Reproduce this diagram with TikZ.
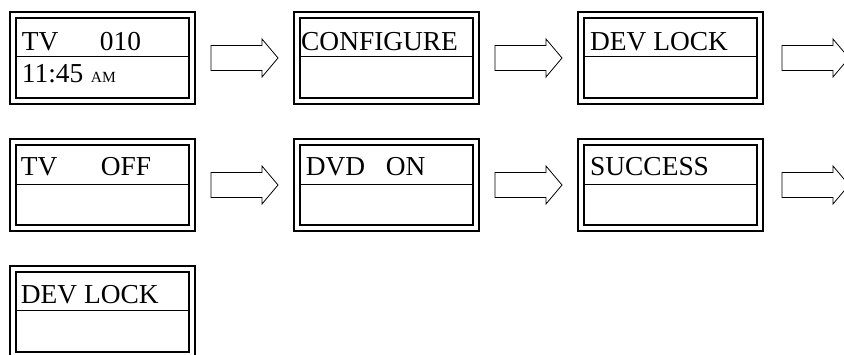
\documentclass[tikz,border=0pt]{standalone}
\usepackage{fontspec}
\setmainfont{Liberation Serif}
\usetikzlibrary{calc}
\begin{document}
\begin{tikzpicture}[x=1pt,y=-1pt,
  screen/.style={draw, line width=2pt, double, double distance=4pt,
    minimum width=179pt, minimum height=86pt, inner sep=0pt},
  lbl/.style={anchor=base west, inner sep=0pt, font=\fontsize{27.4}{30}\selectfont},
  smalllbl/.style={anchor=base west, inner sep=0pt, font=\fontsize{15.5}{18}\selectfont},
  divider/.style={line width=1pt},
  blockarrow/.pic={\draw[line width=0.8pt] (-33.5,-12.5) -- (17.5,-12.5) -- (17.5,-19)
     -- (33.5,0) -- (17.5,19) -- (17.5,12.5) -- (-33.5,12.5) -- cycle;}
]
\useasboundingbox (0,0) rectangle (844,354);
% screens
\node[screen] (s1) at (102.5,58) {};
\node[screen] (s2) at (386.5,58) {};
\node[screen] (s3) at (670.5,58) {};
\node[screen] (s4) at (102.5,185) {};
\node[screen] (s5) at (386.5,185) {};
\node[screen] (s6) at (670.5,185) {};
\node[screen] (s7) at (102.5,312) {};
% dividers
\foreach \s/\d in {s1/42,s2/42,s3/42,s4/43,s5/43,s6/43,s7/42}
  \draw[divider] ($(\s.north west)+(4,\d)$) -- ($(\s.north east)+(-4,\d)$);
% arrows
\coordinate (a1) at ($(s1.east)!0.5!(s2.west)$);
\coordinate (a2) at ($(s2.east)!0.5!(s3.west)$);
\coordinate (a3) at ($(s3.east)+(54.5,0)$);
\coordinate (a4) at ($(s4.east)!0.5!(s5.west)$);
\coordinate (a5) at ($(s5.east)!0.5!(s6.west)$);
\coordinate (a6) at ($(s6.east)+(54.5,0)$);
\foreach \a in {a1,a2,a3,a4,a5,a6}
  \pic at (\a) {blockarrow};
% texts
\node[lbl] (t1a) at ($(s1.north west)+(9.7,36)$) {TV};
\node[lbl] (t1b) at ($(s1.north west)+(87.7,36)$) {010};
\node[lbl] (t1c) at ($(s1.north west)+(9.7,68)$) {11:45};
\node[smalllbl] (t1d) at ($(s1.north west)+(78.7,68)$) {AM};
\node[lbl] (t2) at ($(s2.north west)+(5,36)$) {CONFIGURE};
\node[lbl] (t3) at ($(s3.north west)+(10,36)$) {DEV LOCK};
\node[lbl] (t4a) at ($(s4.north west)+(8.7,34)$) {TV};
\node[lbl] (t4b) at ($(s4.north west)+(88.7,34)$) {OFF};
\node[lbl] (t5a) at ($(s5.north west)+(9.7,34)$) {DVD};
\node[lbl] (t5b) at ($(s5.north west)+(89.7,34)$) {ON};
\node[lbl] (t6) at ($(s6.north west)+(10,34)$) {SUCCESS};
\node[lbl] (t7) at ($(s7.north west)+(8.7,35)$) {DEV LOCK};
\end{tikzpicture}
\end{document}
